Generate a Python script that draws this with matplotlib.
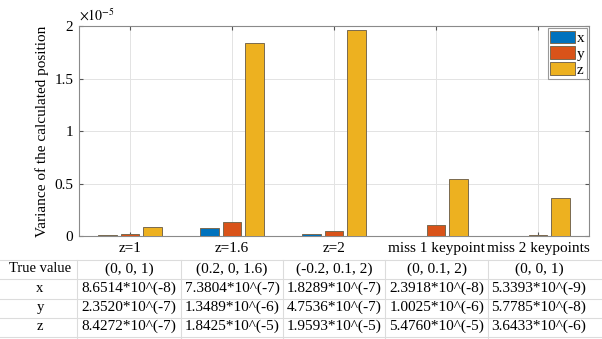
import numpy as np
import matplotlib
matplotlib.use("Agg")
import matplotlib.pyplot as plt
from matplotlib.lines import Line2D
from matplotlib.ticker import FuncFormatter

plt.rcParams['font.family'] = ['Liberation Serif', 'DejaVu Serif']
plt.rcParams['mathtext.fontset'] = 'stix'

# data
categories = ['z=1', 'z=1.6', 'z=2', 'miss 1 keypoint', 'miss 2 keypoints']
var_x = [8.6514e-8, 7.3804e-7, 1.8289e-7, 2.3918e-8, 5.3393e-9]
var_y = [2.3520e-7, 1.3489e-6, 4.7536e-7, 1.0025e-6, 5.7785e-8]
var_z = [8.4272e-7, 1.8425e-5, 1.9593e-5, 5.4760e-6, 3.6433e-6]
series_names = ['x', 'y', 'z']
colors = ['#0072BD', '#D95319', '#EDB120']

# table below the chart
true_values = ['(0, 0, 1)', '(0.2, 0, 1.6)', '(-0.2, 0.1, 2)', '(0, 0.1, 2)', '(0, 0, 1)']
table_x = ['8.6514*10^(-8)', '7.3804*10^(-7)', '1.8289*10^(-7)', '2.3918*10^(-8)', '5.3393*10^(-9)']
table_y = ['2.3520*10^(-7)', '1.3489*10^(-6)', '4.7536*10^(-7)', '1.0025*10^(-6)', '5.7785*10^(-8)']
table_z = ['8.4272*10^(-7)', '1.8425*10^(-5)', '1.9593*10^(-5)', '5.4760*10^(-5)', '3.6433*10^(-6)']

W, H = 602, 339
fig = plt.figure(figsize=(W / 100, H / 100), dpi=100)
ax = fig.add_axes([79 / W, 1 - 236 / H, (589 - 79) / W, (236 - 26) / H])

pos = np.arange(1, len(categories) + 1)
width = 0.18
offsets = [-0.22, 0, 0.22]
for vals, off, c, name in zip([var_x, var_y, var_z], offsets, colors, series_names):
    ax.bar(pos + off, vals, width, color=c, edgecolor='#7a6a50', linewidth=0.7,
           label=name, zorder=3)

ax.set_xlim(0.5, 5.5)
ax.set_ylim(0, 2e-5)
ax.set_xticks(pos)
ax.set_xticklabels(categories, fontsize=11)
ax.set_yticks([0, 0.5e-5, 1e-5, 1.5e-5, 2e-5])
ax.yaxis.set_major_formatter(FuncFormatter(lambda v, p: f'{v * 1e5:g}'))
ax.tick_params(axis='both', direction='in', length=3, top=True, right=True,
               labelsize=11, color='#555555', pad=4)
ax.grid(True, color='#e3e3e3', linewidth=0.7, zorder=0)
for s in ax.spines.values():
    s.set_color('#8a8a8a')
    s.set_linewidth(0.8)
ax.set_ylabel('Variance of the calculated position', fontsize=11, labelpad=4)
ax.text(0.0, 1.01, r'$\times10^{-5}$', transform=ax.transAxes, fontsize=10,
        ha='left', va='bottom')

leg = ax.legend(loc='upper right', fontsize=11, handlelength=1.6, handleheight=0.85,
                handletextpad=0.15, borderpad=0.15, labelspacing=0.1,
                borderaxespad=0.15, fancybox=False, framealpha=1)
leg.get_frame().set_edgecolor('#999999')
leg.get_frame().set_linewidth(0.8)

# table drawn in pixel coordinates of the figure
def fx(px):
    return px / W

def fy(py):
    return 1 - py / H

line_c = '#dcdcdc'
for yy in [260, 279, 299, 318, 337]:
    fig.add_artist(Line2D([0, 1], [fy(yy), fy(yy)], color=line_c, lw=0.8))
col_edges = [77, 181, 283, 385, 488]
for xx in col_edges:
    fig.add_artist(Line2D([fx(xx), fx(xx)], [fy(260), fy(339)], color=line_c, lw=0.8))

row_y = [269, 288, 307, 326]
row_labels = ['True value', 'x', 'y', 'z']
rows = [true_values, table_x, table_y, table_z]
col_centers = [129, 232, 334, 437, 539]
for ry, lab, row in zip(row_y, row_labels, rows):
    fig.text(fx(40), fy(ry), lab, ha='center', va='center', fontsize=10.5)
    for cx, txt in zip(col_centers, row):
        fig.text(fx(cx), fy(ry), txt, ha='center', va='center', fontsize=11)

fig.savefig('out.png', dpi=100)
